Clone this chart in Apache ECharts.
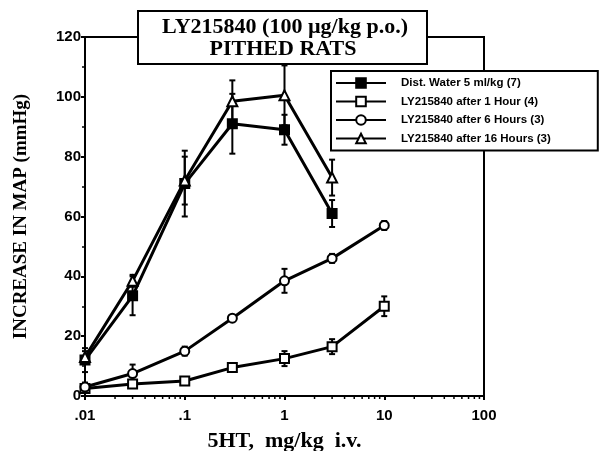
<!DOCTYPE html>
<html><head><meta charset="utf-8">
<script src="https://cdn.jsdelivr.net/npm/echarts@6/dist/echarts.min.js"></script>
<style>html,body{margin:0;padding:0;background:#fff}#c{width:607px;height:451px}</style>
</head><body><div id="c"></div>
<script>
const doses = [0.01, 0.03, 0.1, 0.3, 1, 3, 10];
const xTickLabels = {0.01: '.01', 0.1: '.1', 1: '1', 10: '10', 100: '100'};
const xMinorTicks = [0.02,0.03,0.04,0.05,0.06,0.07,0.08,0.09, 0.2,0.3,0.4,0.5,0.6,0.7,0.8,0.9, 2,3,4,5,6,7,8,9, 20,30,40,50,60,70,80,90];
const seriesNames = ['Dist. Water 5 ml/kg (7)', 'LY215840 after 1 Hour (4)', 'LY215840 after 6 Hours (3)', 'LY215840 after 16 Hours (3)'];
const water = [12, 33.5, 71, 91, 89, 61];
const waterErr = [4, 6.5, 11, 10, 5, 4.5];
const h1 = [2.5, 4, 5, 9.5, 12.5, 16.5, 30];
const h1Err = [1, 1, 1, 1, 2.5, 2.5, 3.3];
const h6 = [3, 7.5, 15, 26, 38.5, 46, 57];
const h6Err = [1.5, 3, 1.5, 1, 4, 1.5, 1.5];
const h16 = [13, 38.5, 72, 98.5, 100.5, 73];
const h16Err = [2, 2, 8, 7, 10, 6];

const SERIF = '"Liberation Serif", "DejaVu Serif", serif';
const SANS = '"Liberation Sans", Arial, sans-serif';

function pts(vals){ return vals.map((v,i)=>[doses[i], v]); }
function errData(vals, errs){ return vals.map((v,i)=>[doses[i], v-errs[i], v+errs[i]]); }

function errSeries(vals, errs){
  return {
    type: 'custom', z: 1, silent: true, clip: false,
    data: errData(vals, errs),
    renderItem: function(params, api){
      const x = api.value(0);
      const lo = api.coord([x, api.value(1)]);
      const hi = api.coord([x, api.value(2)]);
      const w = 3;
      const st = {stroke: '#000', lineWidth: 2};
      return {type: 'group', children: [
        {type: 'line', shape: {x1: lo[0], y1: lo[1], x2: hi[0], y2: hi[1]}, style: st},
        {type: 'line', shape: {x1: lo[0]-w, y1: lo[1], x2: lo[0]+w, y2: lo[1]}, style: st},
        {type: 'line', shape: {x1: hi[0]-w, y1: hi[1], x2: hi[0]+w, y2: hi[1]}, style: st}
      ]};
    }
  };
}

const minorTickSeries = {
  type: 'custom', z: 1, silent: true, clip: false,
  data: xMinorTicks.map(v => [v, 0]),
  renderItem: function(params, api){
    const p = api.coord([api.value(0), 0]);
    return {type: 'line', shape: {x1: p[0], y1: p[1], x2: p[0], y2: p[1] + 3}, style: {stroke: '#000', lineWidth: 1.5}};
  }
};

function lineSeries(name, vals, symbol, fill){
  return {
    name: name, type: 'line', z: 3, clip: false,
    data: pts(vals), symbol: symbol, symbolSize: symbol === 'triangle' ? 10 : 9,
    lineStyle: {color: '#000', width: 3},
    itemStyle: {color: fill, borderColor: '#000', borderWidth: 2},
    emphasis: {disabled: true}
  };
}

const chart = echarts.init(document.getElementById('c'), null, {renderer: 'canvas'});
chart.setOption({
  animation: false,
  backgroundColor: '#fff',
  grid: {left: 85, right: 123, top: 37, bottom: 55, show: true, borderColor: '#000', borderWidth: 2,
    backgroundColor: 'transparent', containLabel: false, outerBoundsMode: 'none'},
  xAxis: {
    type: 'log', logBase: 10, min: 0.01, max: 100,
    name: '5HT,  mg/kg  i.v.', nameLocation: 'middle', nameGap: 34,
    nameTextStyle: {fontFamily: SERIF, fontWeight: 'bold', fontSize: 22, color: '#000'},
    axisLine: {lineStyle: {color: '#000', width: 2}},
    axisTick: {length: 4, lineStyle: {color: '#000', width: 2}},
    splitLine: {show: false},
    axisLabel: {margin: 12, fontFamily: SANS, fontWeight: 'bold', fontSize: 15, color: '#000',
      formatter: v => xTickLabels[+v.toPrecision(3)] ?? ''}
  },
  yAxis: {
    type: 'value', min: 0, max: 120, interval: 20,
    name: 'INCREASE IN MAP (mmHg)', nameLocation: 'middle', nameGap: 54,
    nameTextStyle: {fontFamily: SERIF, fontWeight: 'bold', fontSize: 19, color: '#000'},
    axisLine: {show: true, lineStyle: {color: '#000', width: 2}},
    axisTick: {show: true, length: 4, lineStyle: {color: '#000', width: 2}},
    minorTick: {show: true, splitNumber: 2, length: 3, lineStyle: {color: '#000', width: 1.5}},
    splitLine: {show: false},
    axisLabel: {margin: 4, fontFamily: SANS, fontWeight: 'bold', fontSize: 15, color: '#000'}
  },
  legend: {
    data: seriesNames, orient: 'vertical', left: 331, top: 71,
    backgroundColor: '#fff', borderColor: '#000', borderWidth: 2,
    padding: [6, 47, 6, 4], itemGap: 6.5, itemWidth: 50, itemHeight: 12,
    textStyle: {fontFamily: SANS, fontWeight: 'bold', fontSize: 11.5, color: '#000', padding: [0, 0, 0, 10]},
    selectedMode: false
  },
  graphic: [
    {type: 'rect', left: 137, top: 10, z: 100, shape: {width: 289, height: 53},
      style: {fill: '#fff', stroke: '#000', lineWidth: 2}},
    {type: 'text', x: 285, y: 27, z: 101,
      style: {text: 'LY215840 (100 µg/kg p.o.)', fill: '#000', font: 'bold 22px ' + SERIF, align: 'center', verticalAlign: 'middle'}},
    {type: 'text', x: 283, y: 49, z: 101,
      style: {text: 'PITHED RATS', fill: '#000', font: 'bold 22px ' + SERIF, align: 'center', verticalAlign: 'middle'}}
  ],
  series: [
    minorTickSeries,
    errSeries(water, waterErr),
    errSeries(h1, h1Err),
    errSeries(h6, h6Err),
    errSeries(h16, h16Err),
    lineSeries(seriesNames[0], water, 'rect', '#000'),
    lineSeries(seriesNames[1], h1, 'rect', '#fff'),
    lineSeries(seriesNames[2], h6, 'circle', '#fff'),
    lineSeries(seriesNames[3], h16, 'triangle', '#fff')
  ]
});
</script></body></html>
